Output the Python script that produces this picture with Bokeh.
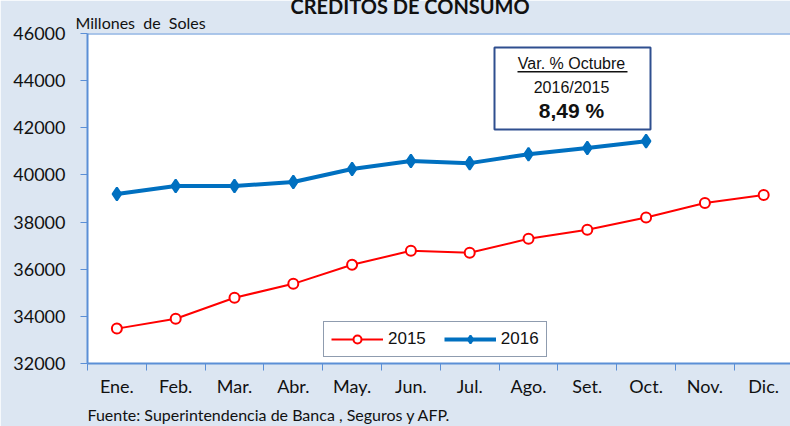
from bokeh.plotting import figure
from bokeh.models import (FixedTicker, Label, BoxAnnotation, Span, Legend, LegendItem,
                          ColumnDataSource, Title)
from bokeh.embed import file_html
from bokeh.resources import INLINE

months = ["Ene.", "Feb.", "Mar.", "Abr.", "May.", "Jun.", "Jul.", "Ago.", "Set.", "Oct.", "Nov.", "Dic."]
y2015 = [33480, 33900, 34790, 35380, 36190, 36780, 36700, 37290, 37670, 38190, 38810, 39150]
y2016 = [39190, 39530, 39530, 39700, 40250, 40590, 40500, 40880, 41140, 41432]
y_ticks = [32000, 34000, 36000, 38000, 40000, 42000, 44000, 46000]

title_text = "CRÉDITOS DE CONSUMO"
units_text = "Millones\u00a0\u00a0de\u00a0\u00a0Soles"
source_text = "Fuente: Superintendencia de Banca , Seguros y AFP."
box_lines = ["Var. % Octubre", "2016/2015", "8,49 %"]

BG = "#DCE6F2"
AXIS = "#5B8FD6"
RED = "#FF0000"
BLUE = "#0070C0"
FONT = "Lato"

centers = [i + 0.5 for i in range(len(months))]
src15 = ColumnDataSource(dict(x=centers[:len(y2015)], y=y2015))
src16 = ColumnDataSource(dict(x=centers[:len(y2016)], y=y2016))

p = figure(width=790, height=426, output_backend="svg", toolbar_location=None,
           x_range=(0, 703 / 58.8), y_range=(32000, 46000),
           min_border_left=87, min_border_right=0, min_border_top=33, min_border_bottom=62)
p.background_fill_color = "white"
p.border_fill_color = BG
p.outline_line_color = None
p.grid.visible = False

# x axis
xa = p.xaxis[0]
xa.ticker = FixedTicker(ticks=centers, minor_ticks=list(range(len(months) + 1)))
xa.major_label_overrides = {c: m for c, m in zip(centers, months)}
xa.major_tick_out = 0
xa.major_tick_in = 0
xa.minor_tick_out = 7
xa.minor_tick_in = 0
xa.minor_tick_line_color = AXIS
xa.axis_line_color = AXIS
xa.axis_line_width = 2
xa.major_label_text_font = FONT
xa.major_label_text_font_size = "18px"
xa.major_label_text_color = "#111111"
xa.major_label_standoff = 4

ya = p.yaxis[0]
ya.ticker = FixedTicker(ticks=y_ticks, minor_ticks=[])
ya.major_tick_out = 7
ya.major_tick_in = 0
ya.major_tick_line_color = AXIS
ya.axis_line_color = AXIS
ya.axis_line_width = 2
ya.major_label_text_font = FONT
ya.major_label_text_font_size = "18px"
ya.major_label_text_color = "#111111"
ya.major_label_standoff = 15

p.add_layout(Span(location=46000, dimension="width", line_color=AXIS, line_width=2))

l15 = p.line("x", "y", source=src15, line_color=RED, line_width=2)
s15 = p.scatter("x", "y", source=src15, marker="circle", size=10, line_color=RED,
                line_width=2, fill_color="white")
l16 = p.line("x", "y", source=src16, line_color=BLUE, line_width=4)
s16 = p.scatter("x", "y", source=src16, marker="diamond", size=13,
                line_color=BLUE, line_width=2, fill_color=BLUE)

legend = Legend(items=[LegendItem(label="2015", renderers=[l15, s15]),
                       LegendItem(label="2016", renderers=[l16, s16])],
                orientation="horizontal", location=(236, 6),
                border_line_color="#1F3A60", border_line_width=1.5,
                background_fill_color="white", background_fill_alpha=1,
                label_text_font="Liberation Sans", label_text_font_size="17px",
                label_text_color="#111111",
                glyph_width=52, glyph_height=20, label_standoff=5, spacing=18,
                padding=7, margin=0)
p.add_layout(legend, "center")

# texts outside the frame as Title panels (first added = closest to frame)
p.add_layout(Title(text=units_text, align="left", offset=-12, standoff=4,
                   text_font=FONT, text_font_size="16px", text_font_style="normal",
                   text_color="#111111"), "above")
p.add_layout(Title(text=title_text, align="left", offset=203, standoff=-19,
                   text_font=FONT, text_font_size="20px", text_font_style="bold",
                   text_color="#111111"), "above")
p.add_layout(Title(text=source_text, align="left", offset=0, standoff=6,
                   text_font=FONT, text_font_size="16px", text_font_style="normal",
                   text_color="#111111"), "below")

# annotation box
p.add_layout(BoxAnnotation(left=407, right=563, top=316, bottom=234,
                           left_units="screen", right_units="screen",
                           top_units="screen", bottom_units="screen",
                           fill_color="white", fill_alpha=1,
                           line_color="#2F4F8F", line_width=2, line_alpha=1))
p.add_layout(BoxAnnotation(left=430, right=540, top=292.5, bottom=291,
                           left_units="screen", right_units="screen",
                           top_units="screen", bottom_units="screen",
                           fill_color="#111111", fill_alpha=1, line_color=None))
for txt, sy, size, style in zip(box_lines, [300, 276.5, 253.5], ["16px", "16px", "21px"],
                                ["normal", "normal", "bold"]):
    p.add_layout(Label(x=484, y=sy, x_units="screen", y_units="screen", text=txt,
                       text_font="Liberation Sans", text_font_size=size,
                       text_font_style=style, text_align="center",
                       text_baseline="middle", text_color="#111111"))

open("out.html", "w").write(file_html(p, INLINE))
